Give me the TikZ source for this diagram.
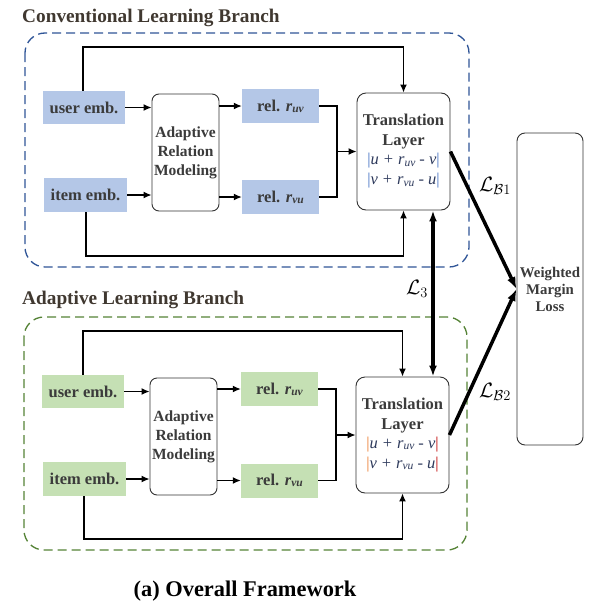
\documentclass[tikz,border=0pt]{standalone}
\usepackage{fontspec}
\setmainfont{Liberation Serif}
\usetikzlibrary{arrows.meta}
\definecolor{bfill}{HTML}{B4C7E7}
\definecolor{gfill}{HTML}{C5E0B4}
\definecolor{bdash}{HTML}{2F5597}
\definecolor{gdash}{HTML}{548235}
\definecolor{txt}{HTML}{3B3B3B}
\definecolor{ttl}{HTML}{403830}
\definecolor{frm}{HTML}{2E3A5C}
\definecolor{barB}{HTML}{4472C4}
\definecolor{barO}{HTML}{ED7D31}
\definecolor{barR}{HTML}{C00000}
\newcommand\subidx[1]{\raisebox{-0.15ex}{\fontsize{11.5}{11.5}\selectfont\itshape #1}}
\newcommand\eqln[5]{{\color{#1}|}\textit{#3}\hspace{0.3em}+\hspace{0.3em}\textit{r}\subidx{#4}\hspace{0.25em}-\hspace{0.25em}\textit{#5}{\color{#2}|}}
\begin{document}
\begin{tikzpicture}[x=1pt,y=-1pt,
  emb/.style={rectangle,minimum width=82,minimum height=33,inner sep=0,
    font=\fontsize{16.5}{19}\selectfont\bfseries,text=txt},
  relbox/.style={rectangle,minimum width=77,minimum height=34,inner sep=0,
    font=\fontsize{16.5}{19}\selectfont\bfseries,text=txt},
  armbox/.style={draw=black!80,line width=0.9pt,rounded corners=7,fill=white,
    minimum width=67,minimum height=117,inner sep=0,align=center,
    font=\fontsize{15.5}{19}\selectfont\bfseries,text=txt},
  transbox/.style={draw=black!80,line width=0.9pt,rounded corners=9,fill=white,
    minimum width=93,minimum height=117,inner sep=0,align=center,
    font=\fontsize{16.5}{20}\selectfont\bfseries,text=txt},
  lossbox/.style={draw=black!80,line width=0.9pt,rounded corners=8,fill=white,
    minimum width=66,minimum height=312,inner sep=0,align=center,
    font=\fontsize{14.8}{17}\selectfont\bfseries,text=txt},
  branch/.style={line width=1.3pt,dash pattern=on 9pt off 5pt,rounded corners=20},
  conn/.style={line width=1.3pt,-{Latex[length=8pt,width=7pt]}},
  plain/.style={line width=1.3pt},
  thickarr/.style={line width=3.5pt,-{Latex[length=12pt,width=9pt]}},
  dblarr/.style={line width=3.2pt,{Latex[length=11pt,width=8pt]}-{Latex[length=11pt,width=8pt]}},
  ttlfont/.style={font=\fontsize{19.3}{21}\selectfont\bfseries,text=ttl},
  lbl/.style={font=\fontsize{22}{22}\selectfont},
  eqfont/.style={}
]
\useasboundingbox (0,0) rectangle (593,616);

% titles
\node[ttlfont,anchor=west,inner sep=0] (ttlA) at (22,18) {Conventional Learning Branch};
\node[ttlfont,anchor=west,inner sep=0] (ttlB) at (22,300) {Adaptive Learning Branch};

% branch frames
\draw[branch,draw=bdash] (25,33) rectangle (469,267);
\draw[branch,draw=gdash] (24,317) rectangle (467,550);

% ---------- top branch ----------
\node[emb,fill=bfill] (userA) at (84,107.5) {user emb.};
\node[emb,fill=bfill,minimum width=83,minimum height=34] (itemA) at (85.5,195) {item emb.};
\node[armbox] (armA) at (185.5,152.5) {Adaptive\\Relation\\Modeling};
\node[relbox,fill=bfill] (ruvA) at (280.5,106) {rel. \textit{r}\subidx{uv}};
\node[relbox,fill=bfill] (rvuA) at (280.5,197) {rel. \textit{r}\subidx{vu}};
\node[transbox] (transA) at (403.5,151.5) {Translation\\Layer\\[-1pt]
  {\fontsize{16.5}{20}\selectfont\mdseries\color{frm}\eqln{barB}{barB}{u}{uv}{v}}\\
  {\fontsize{16.5}{20}\selectfont\mdseries\color{frm}\eqln{barB}{barB}{v}{vu}{u}}};

\draw[conn] (userA.east) -- (armA.west |- userA.east);
\draw[conn] (itemA.east) -- (armA.west |- itemA.east);
\draw[conn] (armA.east |- ruvA.west) -- (ruvA.west);
\draw[conn] (armA.east |- rvuA.west) -- (rvuA.west);
\coordinate (mA) at (337,151.5);
\draw[plain] (ruvA.east) -| (mA) |- (rvuA.east);
\draw[conn] (mA) -- (transA.west);
\coordinate (tA) at (83,47);
\draw[conn] (userA.north -| tA) -- (tA) -| (transA.north);
\coordinate (bA) at (86,256);
\draw[conn] (itemA.south -| bA) -- (bA) -| (transA.south);

% ---------- bottom branch ----------
\node[emb,fill=gfill] (userB) at (83,391.5) {user emb.};
\node[emb,fill=gfill,minimum width=83,minimum height=34] (itemB) at (84.5,479) {item emb.};
\node[armbox] (armB) at (183.5,436.5) {Adaptive\\Relation\\Modeling};
\node[relbox,fill=gfill] (ruvB) at (279.5,389) {rel. \textit{r}\subidx{uv}};
\node[relbox,fill=gfill] (rvuB) at (279.5,480.5) {rel. \textit{r}\subidx{vu}};
\node[transbox,minimum height=116] (transB) at (402.5,435) {Translation\\Layer\\[-1pt]
  {\fontsize{16.5}{20}\selectfont\mdseries\color{frm}\eqln{barO}{barR}{u}{uv}{v}}\\
  {\fontsize{16.5}{20}\selectfont\mdseries\color{frm}\eqln{barO}{barR}{v}{vu}{u}}};

\draw[conn] (userB.east) -- (armB.west |- userB.east);
\draw[conn] (itemB.east) -- (armB.west |- itemB.east);
\draw[conn] (armB.east |- ruvB.west) -- (ruvB.west);
\draw[conn] (armB.east |- rvuB.west) -- (rvuB.west);
\coordinate (mB) at (336,435);
\draw[plain] (ruvB.east) -| (mB) |- (rvuB.east);
\draw[conn] (mB) -- (transB.west);
\coordinate (tB) at (83,331);
\draw[conn] (userB.north -| tB) -- (tB) -| (transB.north);
\coordinate (bB) at (84,539);
\draw[conn] (itemB.south -| bB) -- (bB) -| (transB.south);

% ---------- loss ----------
\node[lossbox] (wml) at (550,289) {Weighted\\Margin\\Loss};
\coordinate (dx) at (433,0);
\draw[dblarr] (transA.south -| dx) -- (transB.north -| dx);
\draw[thickarr] (transA.east) -- (wml.west);
\draw[thickarr] (transB.east) -- (wml.west);

\node[lbl] (lb1) at (495,186) {$\mathcal{L}_{\mathcal{B}1}$};
\node[lbl] (l3) at (417,289) {$\mathcal{L}_{3}$};
\node[lbl] (lb2) at (495,392) {$\mathcal{L}_{\mathcal{B}2}$};

% caption
\node[font=\fontsize{22.4}{25}\selectfont\bfseries,inner sep=0] (cap) at (245,591) {(a) Overall Framework};
\end{tikzpicture}
\end{document}
